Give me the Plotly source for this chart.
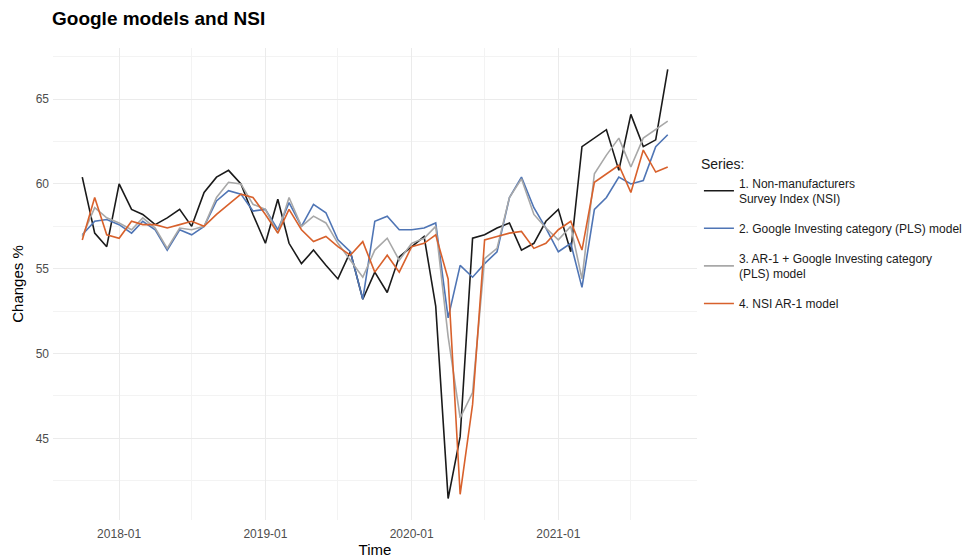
"""
Google models and NSI - monthly line chart
"""

import pandas as pd
import plotly.graph_objects as go


# -- Data --------------------------------------------------------------------

months = pd.date_range("2017-10-01", "2021-10-01", freq="MS")

nsi = [
    60.4, 57.1, 56.3, 60.0, 58.5, 58.2, 57.6, 58.0, 58.5, 57.5, 59.5, 60.4,
    60.8, 60.0, 58.2, 56.5, 59.1, 56.5, 55.3, 56.1, 55.2, 54.4, 56.0, 53.2,
    54.8, 53.6, 55.7, 56.3, 56.9, 52.8, 41.45, 45.1, 56.8, 57.0, 57.4, 57.7,
    56.1, 56.5, 57.8, 58.5, 56.0, 62.2, 62.7, 63.2, 60.8, 64.1, 62.2, 62.6,
    66.75,
]
google_pls = [
    57.0, 57.8, 57.9, 57.6, 57.1, 57.8, 57.3, 56.1, 57.3, 57.0, 57.5, 59.0,
    59.6, 59.4, 58.4, 58.5, 57.3, 58.9, 57.5, 58.8, 58.3, 56.7, 56.0, 53.2,
    57.8, 58.1, 57.3, 57.3, 57.4, 57.7, 52.1, 55.2, 54.5, 55.3, 56.0, 59.2,
    60.4, 58.6, 57.4, 56.0, 56.5, 53.9, 58.5, 59.2, 60.4, 60.0, 60.2, 62.2,
    62.9,
]
ar1_google = [
    56.9, 58.6, 58.0, 57.7, 57.3, 58.0, 57.4, 56.2, 57.4, 57.3, 57.5, 59.2,
    60.1, 60.0, 58.8, 58.5, 57.1, 59.2, 57.5, 58.1, 57.7, 56.5, 55.5, 54.5,
    56.1, 56.8, 55.5, 56.5, 56.8, 57.5, 51.0, 46.2, 47.7, 55.6, 56.2, 59.2,
    60.3, 58.2, 57.4, 56.7, 57.5, 54.4, 60.6, 61.7, 62.7, 61.0, 62.7, 63.2,
    63.7,
]
nsi_ar1 = [
    56.7, 59.2, 57.0, 56.8, 57.8, 57.6, 57.6, 57.4, 57.6, 57.8, 57.5, 58.2,
    58.8, 59.4, 59.2, 58.2, 57.1, 58.5, 57.3, 56.6, 56.9, 56.3, 55.8, 56.6,
    54.8, 55.8, 54.8, 56.3, 56.5, 57.0, 54.4, 41.7, 47.0, 56.7, 56.9, 57.1,
    57.2, 56.2, 56.5, 57.3, 57.8, 56.1, 60.1, 60.6, 61.1, 59.5, 62.0, 60.7,
    61.0,
]

series_names = [
    "1. Non-manufacturers<br>Survey Index (NSI)",
    "2. Google Investing category (PLS) model",
    "3. AR-1 + Google Investing category<br>(PLS) model",
    "4. NSI AR-1 model",
]
series_values = [nsi, google_pls, ar1_google, nsi_ar1]
series_colors = ["#1a1a1a", "#4f75b5", "#a8a8a8", "#d8612c"]


# -- Figure ------------------------------------------------------------------

fig = go.Figure()
for i, (name, vals, col) in enumerate(zip(series_names, series_values, series_colors)):
    fig.add_trace(go.Scatter(
        x=months, y=vals, mode="lines", name=name, legendgroup=f"g{i}",
        line=dict(color=col, width=1.6),
    ))

# ggplot-style 5% expansion of the data range
all_vals = [v for s in series_values for v in s]
ymin, ymax = min(all_vals), max(all_vals)
ypad = (ymax - ymin) * 0.05
xpad = (months[-1] - months[0]) * 0.05

grid = "#ebebeb"
tick_font = dict(family="Liberation Sans, Arial", size=12, color="#4d4d4d")

# the page body adds an 8px offset, so the margins are 8px smaller on top/left
fig.update_layout(
    width=973, height=560,
    template="plotly_white",
    paper_bgcolor="white", plot_bgcolor="white",
    font=dict(family="Liberation Sans, Arial", color="#000000"),
    margin=dict(l=45, r=284, t=40, b=48),
    title=dict(
        text="<b>Google models and NSI</b>",
        font=dict(size=19, color="#000000"),
        xref="container", x=44 / 973, xanchor="left",
        yref="container", y=1 - 10 / 560, yanchor="middle",
    ),
    xaxis=dict(
        range=[months[0] - xpad, months[-1] + xpad],
        tickformat="%Y-%m", dtick="M12", tick0="2018-01-01",
        showgrid=True, gridcolor=grid, gridwidth=1.1,
        minor=dict(dtick="M6", tick0="2018-01-01", showgrid=True,
                   gridcolor="#f3f3f3", gridwidth=0.6),
        zeroline=False, showline=False, ticks="", automargin=False,
        tickfont=tick_font, ticklabelstandoff=5,
        title=dict(text="Time", font=dict(size=15), standoff=3),
    ),
    yaxis=dict(
        range=[ymin - ypad, ymax + ypad],
        dtick=5, tick0=0,
        showgrid=True, gridcolor=grid, gridwidth=1.1,
        minor=dict(dtick=2.5, tick0=0, showgrid=True,
                   gridcolor="#f3f3f3", gridwidth=0.6),
        zeroline=False, showline=False, ticks="", automargin=False,
        tickfont=tick_font, ticklabelstandoff=3,
        title=dict(text="Changes %", font=dict(size=15), standoff=8),
    ),
    legend=dict(
        title=dict(text="Series:", font=dict(size=14)),
        font=dict(size=12, color="#1a1a1a"),
        x=1.003, xanchor="left", y=0.783, yanchor="top",
        bgcolor="rgba(0,0,0,0)", itemwidth=30, tracegroupgap=11,
    ),
    showlegend=True,
)

fig.write_html("out.html")
